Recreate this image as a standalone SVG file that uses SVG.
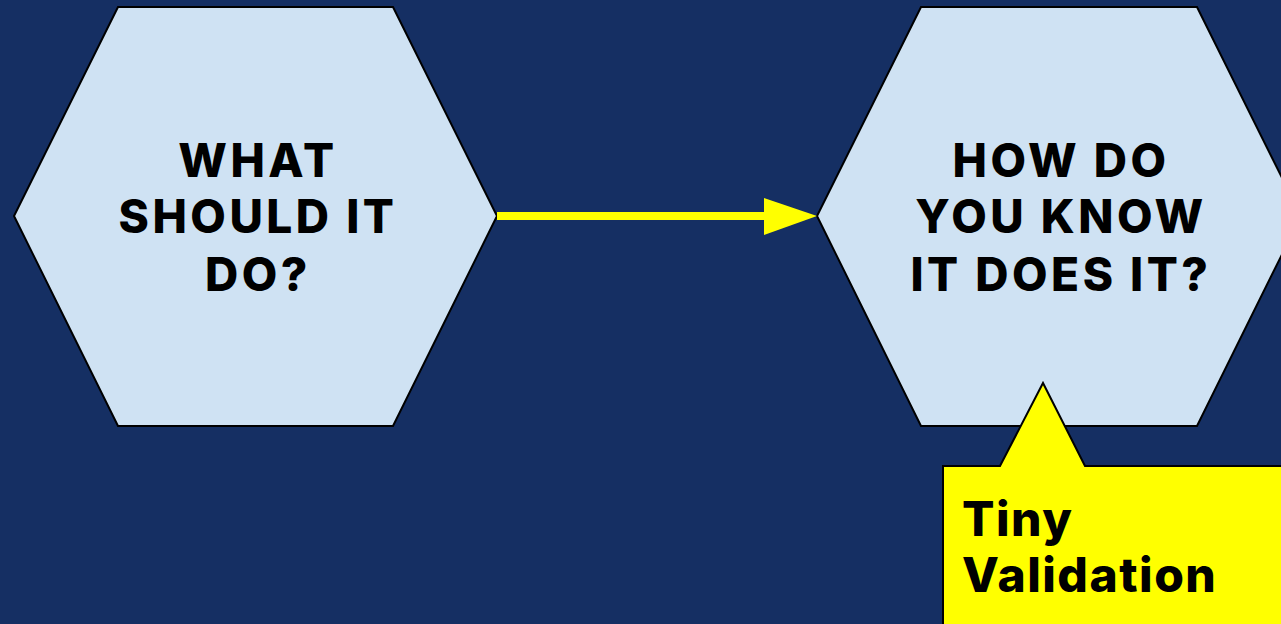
<svg xmlns="http://www.w3.org/2000/svg" width="1281" height="624" viewBox="0 0 1281 624">
<style>
.hex{fill:#cfe2f3;stroke:#000;stroke-width:2}
.t{font-family:Inter,"Liberation Sans",sans-serif;font-weight:800;fill:#000;text-anchor:middle;font-size:46px;letter-spacing:3.5px}
.c{font-family:Inter,"Liberation Sans",sans-serif;font-weight:800;fill:#000;font-size:48px;letter-spacing:1.5px}
</style>
<rect width="1281" height="624" fill="#152f63"/>
<g id="node-what">
<polygon class="hex" points="118,7 393,7 497,216 393,426 118,426 14,216"/>
<text class="t" x="258" y="177">WHAT</text>
<text class="t" x="258" y="233">SHOULD IT</text>
<text class="t" x="258" y="291">DO?</text>
</g>
<g id="node-how">
<polygon class="hex" points="921,7 1197,7 1301,216 1197,426 921,426 817,216"/>
<text class="t" x="1061" y="177">HOW DO</text>
<text class="t" x="1061" y="233">YOU KNOW</text>
<text class="t" x="1061" y="291">IT DOES IT?</text>
</g>
<g id="connectors">
<line x1="497" y1="216" x2="766" y2="216" stroke="#ffff00" stroke-width="8"/>
<polygon points="764,198 817,216 764,235" fill="#ffff00"/>
</g>
<g id="callout">
<path d="M943,640 L943,466 L1000,466 L1043,383 L1085,466 L1300,466 L1300,640 Z" fill="#ffff00" stroke="#000" stroke-width="2"/>
<text class="c" x="962" y="536">Tiny</text>
<text class="c" x="962" y="592">Validation</text>
</g>
</svg>
